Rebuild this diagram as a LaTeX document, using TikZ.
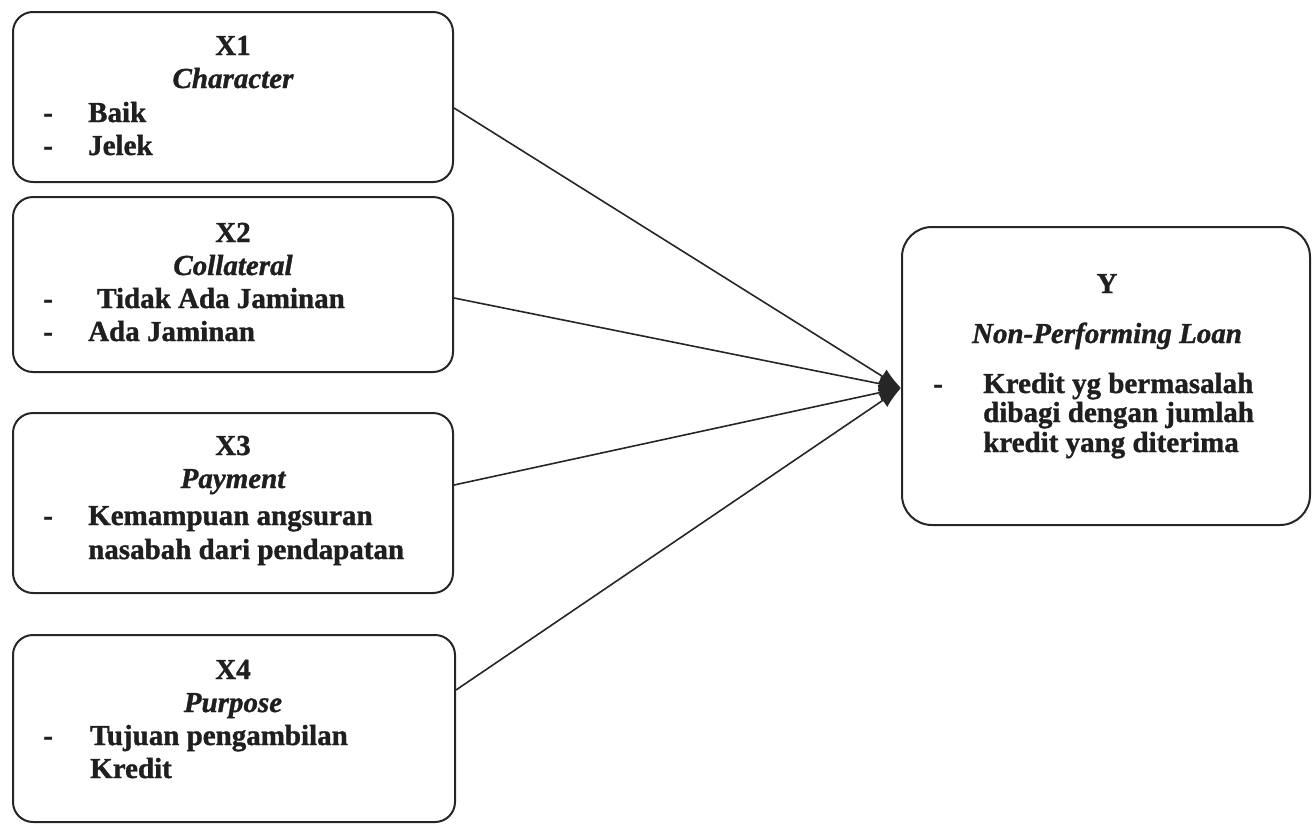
\documentclass[tikz,border=0pt]{standalone}
\usepackage{fontspec}
\setmainfont{Liberation Serif}[BoldFeatures={FakeBold=1.2},BoldItalicFeatures={FakeBold=1.2}]
\usetikzlibrary{arrows.meta}
\begin{document}
\begin{tikzpicture}[x=1pt,y=-1pt,
  box/.style={draw=black!85, line width=2pt, rounded corners=20pt, inner sep=0pt},
  tx/.style={font=\fontsize{29}{33}\selectfont\bfseries, inner sep=0pt, anchor=base west, text=black!88},
  hd/.style={font=\fontsize{29}{33}\selectfont\bfseries, inner sep=0pt, anchor=base, text=black!88},
  hdi/.style={font=\fontsize{29}{33}\selectfont\bfseries\itshape, inner sep=0pt, anchor=base, text=black!88},
  conn/.style={draw=black!85, line width=1.6pt, -{Latex[length=22pt,width=16pt]}}]
\useasboundingbox (0,0) rectangle (1314,825);

% boxes
\node[box, minimum width=440pt, minimum height=170pt] (x1) at (233,97) {};
\node[box, minimum width=440pt, minimum height=175pt] (x2) at (233,284.5) {};
\node[box, minimum width=440pt, minimum height=180pt] (x3) at (233,503) {};
\node[box, minimum width=442pt, minimum height=187pt] (x4) at (234,728.5) {};
\node[box, rounded corners=30pt, minimum width=408pt, minimum height=298pt] (y) at (1106,376) {};

% X1
\node[hd] (x1a) at (233,55) {X1};
\node[hdi] (x1b) at (233,88) {Character};
\node[tx] (x1c) at (43,122) {-};
\node[tx] (x1d) at (88,122) {Baik};
\node[tx] (x1e) at (43,155) {-};
\node[tx] (x1f) at (88,155) {Jelek};

% X2
\node[hd] (x2a) at (233,242) {X2};
\node[hdi] (x2b) at (233,275) {Collateral};
\node[tx] (x2c) at (43,308) {-};
\node[tx] (x2d) at (97,308) {Tidak Ada Jaminan};
\node[tx] (x2e) at (43,341) {-};
\node[tx] (x2f) at (88,341) {Ada Jaminan};

% X3
\node[hd] (x3a) at (233,455) {X3};
\node[hdi] (x3b) at (233,488) {Payment};
\node[tx] (x3c) at (43,525) {-};
\node[tx] (x3d) at (88,525) {Kemampuan angsuran};
\node[tx] (x3e) at (88,559) {nasabah dari pendapatan};

% X4
\node[hd] (x4a) at (233,679) {X4};
\node[hdi] (x4b) at (233,712) {Purpose};
\node[tx] (x4c) at (43,745) {-};
\node[tx] (x4d) at (90,745) {Tujuan pengambilan};
\node[tx] (x4e) at (90,778) {Kredit};

% Y
\node[hd] (ya) at (1107,293) {Y};
\node[hdi] (yb) at (1107,343) {Non-Performing Loan};
\node[tx] (yc) at (933,393) {-};
\node[tx] (yd) at (983,393) {Kredit yg bermasalah};
\node[tx] (ye) at (983,422) {dibagi dengan jumlah};
\node[tx] (yf) at (983,452) {kredit yang diterima};

% connectors
\coordinate (tip) at ([yshift=-12pt]y.west);
\draw[conn] ([yshift=-11pt]x1.east) -- (tip);
\draw[conn] ([yshift=-13.5pt]x2.east) -- (tip);
\draw[conn] ([yshift=18pt]x3.east) -- (tip);
\draw[conn] ([yshift=38.5pt]x4.east) -- (tip);
\end{tikzpicture}
\end{document}
